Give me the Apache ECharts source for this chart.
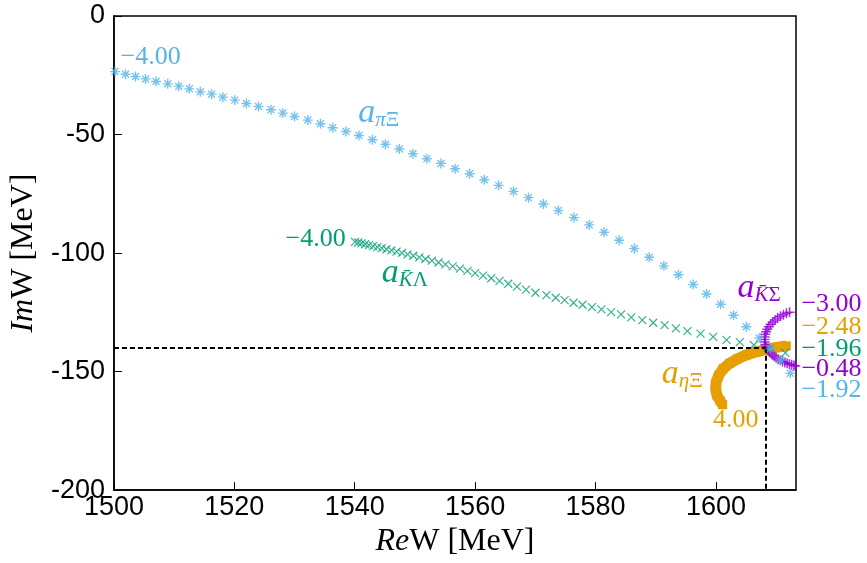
<!DOCTYPE html>
<html>
<head>
<meta charset="utf-8">
<script src="https://cdn.jsdelivr.net/npm/echarts@6/dist/echarts.min.js"></script>
<style>
  html, body { margin: 0; padding: 0; background: #fff; }
  #chart { width: 867px; height: 563px; }
</style>
</head>
<body>
<div id="chart"></div>
<script>
// colours (gnuplot default palette)
var BLUE = '#56B4E9'
var GREEN = '#009E73'
var PURPLE = '#9400D3'
var ORANGE = '#E69F00'
var SERIF = '"Liberation Serif", "Times New Roman", serif'
var SANS = '"Liberation Sans", Arial, sans-serif'

// a_{pi Xi} trajectory, -4.00 ... -1.92
var piXi = [
  [1500.18, -23.45], [1501.93, -24.55], [1503.59, -25.56], [1505.24, -26.53], [1507.01, -27.66],
  [1508.95, -28.63], [1510.77, -29.6], [1512.52, -30.74], [1514.34, -32.0], [1516.22, -32.97],
  [1518.09, -34.23], [1520.08, -35.49], [1522.01, -36.93], [1524.0, -38.19], [1526.08, -39.58],
  [1528.06, -40.97], [1530.0, -42.4], [1532.2, -43.92], [1534.3, -45.47], [1536.33, -47.16],
  [1538.55, -48.72], [1540.7, -50.4], [1542.95, -52.21], [1545.1, -54.1], [1547.41, -56.13],
  [1549.68, -58.1], [1551.99, -60.2], [1554.31, -62.19], [1556.67, -64.42], [1559.1, -66.53],
  [1561.53, -69.05], [1563.9, -71.45], [1566.38, -73.98], [1568.86, -76.63], [1571.34, -79.28],
  [1573.82, -82.1], [1576.42, -85.05], [1578.95, -88.13], [1581.43, -91.24], [1583.91, -94.61],
  [1586.44, -98.1], [1588.92, -101.77], [1591.35, -105.39], [1593.78, -109.18], [1596.23, -113.26],
  [1598.43, -117.26], [1600.78, -121.6], [1602.93, -126.23], [1605.04, -131.07], [1607.18, -135.79],
  [1609.04, -140.42], [1610.7, -145.14], [1612.35, -150.74]
]

// a_{Kbar Lambda} trajectory, -4.00 ... -1.96
var kLambda = [
  [1540.04, -95.28], [1540.57, -95.54], [1541.13, -95.93], [1541.74, -96.29], [1542.37, -96.65],
  [1543.05, -97.05], [1543.76, -97.47], [1544.5, -97.92], [1545.28, -98.38], [1546.11, -98.88],
  [1546.95, -99.4], [1547.84, -99.95], [1548.77, -100.53], [1549.73, -101.15], [1550.72, -101.8],
  [1551.76, -102.49], [1552.82, -103.21], [1553.93, -103.98], [1555.07, -104.79], [1556.26, -105.65],
  [1557.47, -106.55], [1558.72, -107.49], [1560.0, -108.48], [1561.32, -109.53], [1562.68, -110.62],
  [1564.06, -111.76], [1565.5, -112.95], [1566.96, -114.16], [1568.46, -115.44], [1570.02, -116.76],
  [1571.84, -117.77], [1573.38, -118.86], [1574.86, -119.87], [1576.35, -120.97], [1577.84, -121.81],
  [1579.4, -122.82], [1580.98, -123.79], [1582.59, -124.93], [1584.24, -125.89], [1585.94, -127.16],
  [1587.76, -128.29], [1589.58, -129.39], [1591.47, -130.4], [1593.34, -131.79], [1595.27, -132.93],
  [1597.44, -133.98], [1599.54, -135.37], [1601.77, -136.63], [1603.97, -137.56], [1606.29, -138.78],
  [1608.88, -140.42], [1611.53, -142.11]
]

// a_{Kbar Sigma} trajectory, -3.00 ... -0.48
var kSigma = [
  [1612.24, -124.93], [1611.72, -125.39], [1611.21, -125.98], [1610.72, -126.65], [1610.25, -127.41],
  [1609.82, -128.21], [1609.43, -129.09], [1609.08, -130.06], [1608.78, -131.07], [1608.53, -132.13],
  [1608.33, -133.18], [1608.19, -134.27], [1608.10, -135.37], [1608.07, -136.46], [1608.10, -137.52],
  [1608.20, -138.53], [1608.35, -139.49], [1608.55, -140.42], [1608.78, -141.31], [1609.05, -142.11],
  [1609.34, -142.86], [1609.66, -143.54], [1609.99, -144.17], [1610.34, -144.76], [1610.70, -145.26],
  [1611.06, -145.73], [1611.44, -146.15], [1611.82, -146.53], [1612.20, -146.86], [1612.58, -147.16],
  [1612.95, -147.41], [1613.2, -147.62]
]

// a_{eta Xi} trajectory, -2.48 ... 4.00
var etaXi = [
  [1611.69, -139.16], [1610.04, -139.79], [1608.39, -140.63], [1606.73, -141.68], [1605.08, -142.95],
  [1603.59, -144.63], [1602.27, -146.53], [1601.19, -148.84], [1600.45, -151.58], [1600.03, -154.53],
  [1599.95, -157.47], [1600.2, -160.21], [1600.69, -162.32], [1601.11, -164.0]
]

// dashed guide lines
var poleRe = 1608.3
var poleIm = -140

// annotations: text, anchor (left edge, vertical centre) in data units
var labels = [
  { text: '−4.00', x: 1501.1, y: -17.3, color: BLUE },
  { text: '{a|a}{s|π}{u|Ξ}', x: 1540.6, y: -41.0, color: BLUE },
  { text: '−4.00', x: 1528.5, y: -94.3, color: GREEN },
  { text: '{a|a}{s|K\u0304}{u|Λ}', x: 1544.5, y: -108.4, color: GREEN },
  { text: '{a|a}{s|K\u0304}{u|Σ}', x: 1603.6, y: -114.7, color: PURPLE },
  { text: '{a|a}{s|η}{u|Ξ}', x: 1591.0, y: -151.0, color: ORANGE },
  { text: '4.00', x: 1599.5, y: -170.5, color: ORANGE },
  { text: '−3.00', x: 1614.2, y: -121.6, color: PURPLE },
  { text: '−2.48', x: 1614.2, y: -131.4, color: ORANGE },
  { text: '−1.96', x: 1614.2, y: -140.5, color: GREEN },
  { text: '−0.48', x: 1614.2, y: -149.1, color: PURPLE },
  { text: '−1.92', x: 1614.2, y: -157.9, color: BLUE }
]

var ASTER = 'path://M5,0V10M0,5H10M1.5,1.5L8.5,8.5M8.5,1.5L1.5,8.5'
var CROSS = 'path://M0,0L10,10M10,0L0,10'
var PLUS = 'path://M5,0V10M0,5H10'

function markerStyle (color, w) {
  return { color: 'rgba(0,0,0,0)', borderColor: color, borderWidth: w }
}

var myChart = echarts.init(document.getElementById('chart'))
var option = {
  animation: false,
  backgroundColor: '#fff',
  grid: {
    left: 111, right: 71, top: 16, bottom: 72,
    show: true, borderColor: '#000', borderWidth: 1.5, backgroundColor: 'transparent'
  },
  xAxis: {
    type: 'value', min: 1500, max: 1613.3, interval: 20,
    name: '{i|Re}W [MeV]', nameLocation: 'middle', nameGap: 33,
    nameTextStyle: {
      fontFamily: SERIF, fontSize: 32, color: '#000',
      rich: { i: { fontFamily: SERIF, fontSize: 32, fontStyle: 'italic', color: '#000' } }
    },
    axisLine: { onZero: false, lineStyle: { color: '#000', width: 1.5 } },
    axisTick: { inside: true, length: 8, lineStyle: { color: '#000', width: 1 } },
    axisLabel: {
      fontFamily: SANS, fontSize: 27, color: '#000', margin: 4, showMaxLabel: false,
      formatter: function (v) { return String(v) }
    },
    splitLine: { show: false }
  },
  yAxis: {
    type: 'value', min: -200, max: 0, interval: 50,
    name: '{i|Im}W [MeV]', nameLocation: 'middle', nameGap: 67, nameRotate: 90,
    nameTextStyle: {
      fontFamily: SERIF, fontSize: 32, color: '#000',
      rich: { i: { fontFamily: SERIF, fontSize: 32, fontStyle: 'italic', color: '#000' } }
    },
    axisLine: { onZero: false, lineStyle: { color: '#000', width: 1.5 } },
    axisTick: { inside: true, length: 8, lineStyle: { color: '#000', width: 1 } },
    axisLabel: {
      fontFamily: SANS, fontSize: 27, color: '#000', margin: 9,
      formatter: function (v) { return String(v) }
    },
    splitLine: { show: false }
  },
  series: [
    {
      name: 'etaXi', type: 'line', data: etaXi, z: 2,
      showAllSymbol: true, symbol: 'rect', symbolSize: 9,
      itemStyle: { color: ORANGE },
      lineStyle: { color: ORANGE, width: 11, cap: 'butt', join: 'round' }
    },
    {
      name: 'kSigma', type: 'scatter', data: kSigma, z: 3,
      symbol: PLUS, symbolSize: 10, itemStyle: markerStyle(PURPLE, 1.5)
    },
    {
      name: 'kLambda', type: 'scatter', data: kLambda, z: 4,
      symbol: CROSS, symbolSize: 8, itemStyle: markerStyle(GREEN, 1.2)
    },
    {
      name: 'piXi', type: 'scatter', data: piXi, z: 5,
      symbol: ASTER, symbolSize: 10, itemStyle: markerStyle(BLUE, 1.4)
    },
    {
      name: 'guides', type: 'line', data: [], z: 6,
      markLine: {
        silent: true, symbol: 'none', label: { show: false },
        lineStyle: { color: '#000', width: 2, type: [5, 3] },
        data: [
          [{ coord: [1500, poleIm] }, { coord: [poleRe, poleIm] }],
          [{ coord: [poleRe, poleIm] }, { coord: [poleRe, -200] }]
        ]
      }
    }
  ]
}
myChart.setOption(option)

// place annotations through the chart's own coordinate system
var graphics = labels.map(function (l) {
  var p = myChart.convertToPixel({ gridIndex: 0 }, [l.x, l.y])
  return {
    type: 'text', x: p[0], y: p[1], z: 100, silent: true,
    style: {
      text: l.text, fill: l.color, align: 'left', verticalAlign: 'middle',
      fontFamily: SERIF, fontSize: 26,
      rich: {
        a: { fill: l.color, fontFamily: SERIF, fontSize: 34, fontStyle: 'italic', lineHeight: 36 },
        s: { fill: l.color, fontFamily: SERIF, fontSize: 21, fontStyle: 'italic', lineHeight: 10, verticalAlign: 'bottom' },
        u: { fill: l.color, fontFamily: SERIF, fontSize: 21, lineHeight: 10, verticalAlign: 'bottom' }
      }
    }
  }
})
myChart.setOption({ graphic: graphics })
</script>
</body>
</html>
